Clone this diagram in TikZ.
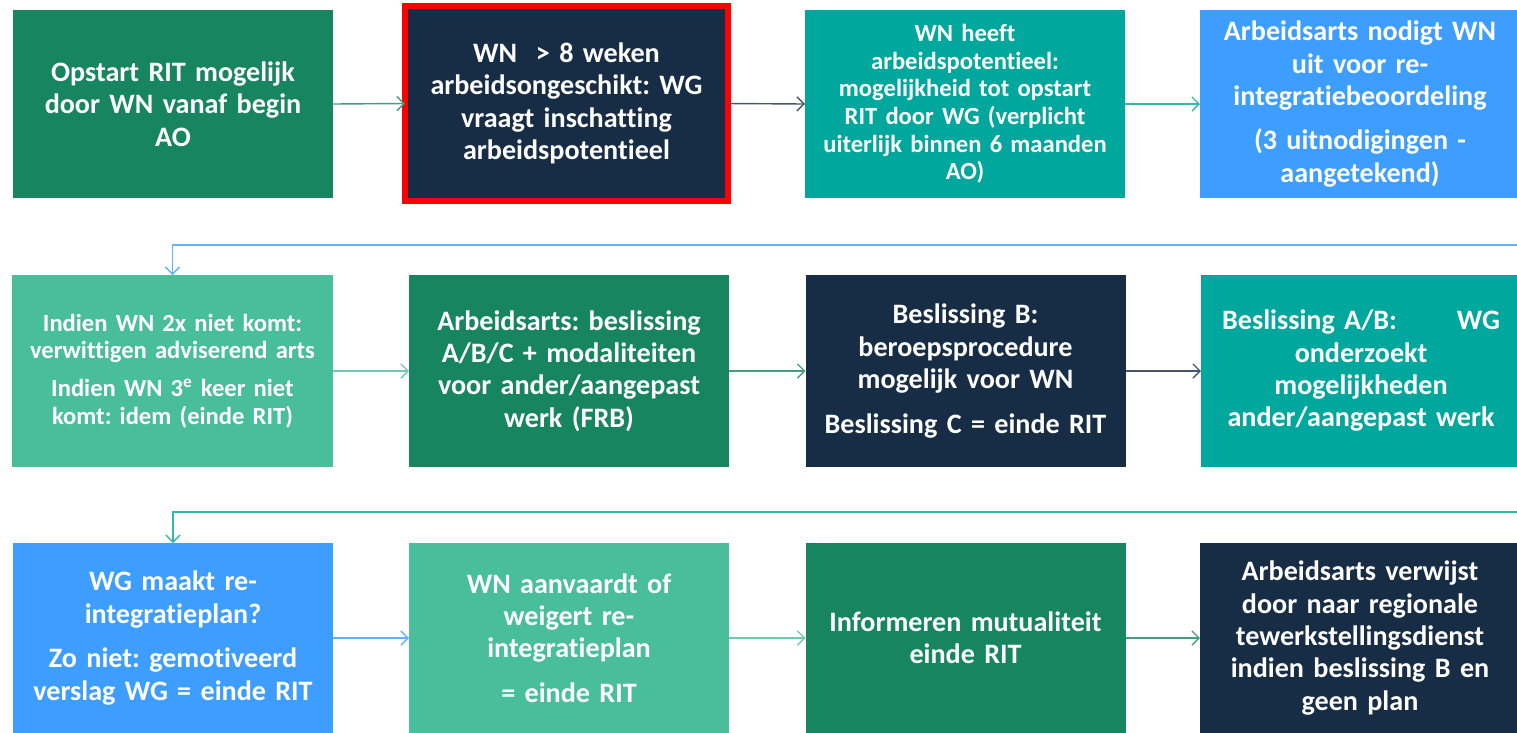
\documentclass[tikz,border=0pt]{standalone}
\usepackage{fontspec}
\setmainfont{Carlito}[Ligatures=NoCommon]
\frenchspacing
\usepackage{tikz}
\usetikzlibrary{arrows.meta,positioning}

\definecolor{dkgreen}{RGB}{23,133,96}
\definecolor{navy}{RGB}{23,44,69}
\definecolor{teal}{RGB}{0,167,157}
\definecolor{ltblue}{RGB}{61,158,255}
\definecolor{ltgreen}{RGB}{73,190,155}

\begin{document}
\begin{tikzpicture}[
    x=0.2mm, y=-0.2mm,
    box/.style={rectangle, minimum width=64mm, minimum height=38mm, text width=63mm,
        align=center, text=white, inner sep=0pt, outer sep=0pt,
        font=\bfseries\fontsize{16}{18.4}\selectfont},
    small/.style={font=\bfseries\fontsize{14}{15.7}\selectfont},
    arrow/.style={-{Straight Barb[length=4pt,width=8pt]}, line width=0.8pt}
]
\useasboundingbox (0,0) rectangle (1517,732);
\clip (0,0) rectangle (1517,732);

% Row 1
\node[box, fill=dkgreen, minimum height=37.6mm] (opstart) at (173,104)
    {Opstart RIT mogelijk\\door WN vanaf begin\\AO};
\node[box, fill=navy, draw=red, line width=1.2mm, minimum width=64.6mm, minimum height=39mm] (weken) at (566.5,103.5)
    {WN\ \ > 8 weken\\arbeidsongeschikt: WG\\vraagt inschatting\\arbeidspotentieel};
\node[box, small, fill=teal, minimum height=37.6mm] (potentieel) at (965,104)
    {WN heeft\\arbeidspotentieel:\\mogelijkheid tot opstart\\RIT door WG (verplicht\\uiterlijk binnen 6 maanden\\AO)};
\node[box, fill=ltblue, minimum height=37.6mm] (nodigt) at (1360,104)
    {Arbeidsarts nodigt WN\\uit voor re-\\integratiebeoordeling\\[7pt](3 uitnodigingen -\\aangetekend)};

% Row 2
\node[box, small, fill=ltgreen, minimum height=38.4mm] (komt) at (172.5,371)
    {Indien WN 2x niet komt:\\verwittigen adviserend arts\\[6pt]Indien WN 3\textsuperscript{e} keer niet\\komt: idem (einde RIT)};
\node[box, fill=dkgreen, minimum height=38.4mm] (beslissing) at (569,371)
    {Arbeidsarts: beslissing\\A/B/C + modaliteiten\\voor ander/aangepast\\werk (FRB)};
\node[box, fill=navy, minimum height=38.4mm] (beslB) at (965.5,371)
    {Beslissing B:\\beroepsprocedure\\mogelijk voor WN\\[7pt]Beslissing C = einde RIT};
\node[box, fill=teal, minimum height=38.4mm] (onderzoekt) at (1361,371)
    {Beslissing A/B:\hspace{12mm}WG\\onderzoekt\\mogelijkheden\\ander/aangepast werk};

% Row 3
\node[box, fill=ltblue, minimum height=38mm] (plan) at (173,638)
    {WG maakt re-\\integratieplan?\\[7pt]Zo niet: gemotiveerd\\verslag WG = einde RIT};
\node[box, fill=ltgreen, minimum height=38mm] (aanvaardt) at (569,638)
    {WN aanvaardt of\\weigert re-\\integratieplan\\[7pt]= einde RIT};
\node[box, fill=dkgreen, minimum height=38mm] (mutualiteit) at (965.5,638)
    {Informeren mutualiteit\\einde RIT};
\node[box, fill=navy, minimum height=38mm] (verwijst) at (1360,638)
    {Arbeidsarts verwijst\\door naar regionale\\tewerkstellingsdienst\\indien beslissing B en\\geen plan};

% Connectors
\coordinate (out1) at (1517,245);
\coordinate (out2) at (1517,512);

\draw[arrow, dkgreen!80] (opstart.east) -- (weken.west);
\draw[arrow, navy!80] (weken.east) -- (potentieel.west);
\draw[arrow, teal!80] (potentieel.east) -- (nodigt.west);
\draw[arrow, ltblue!80] (out1) -| (komt.north);

\draw[arrow, ltgreen!80] (komt.east) -- (beslissing.west);
\draw[arrow, dkgreen!80] (beslissing.east) -- (beslB.west);
\draw[arrow, navy!80] (beslB.east) -- (onderzoekt.west);
\draw[arrow, teal!80] (out2) -| (plan.north);

\draw[arrow, ltblue!80] (plan.east) -- (aanvaardt.west);
\draw[arrow, ltgreen!80] (aanvaardt.east) -- (mutualiteit.west);
\draw[arrow, dkgreen!80] (mutualiteit.east) -- (verwijst.west);

\end{tikzpicture}
\end{document}
